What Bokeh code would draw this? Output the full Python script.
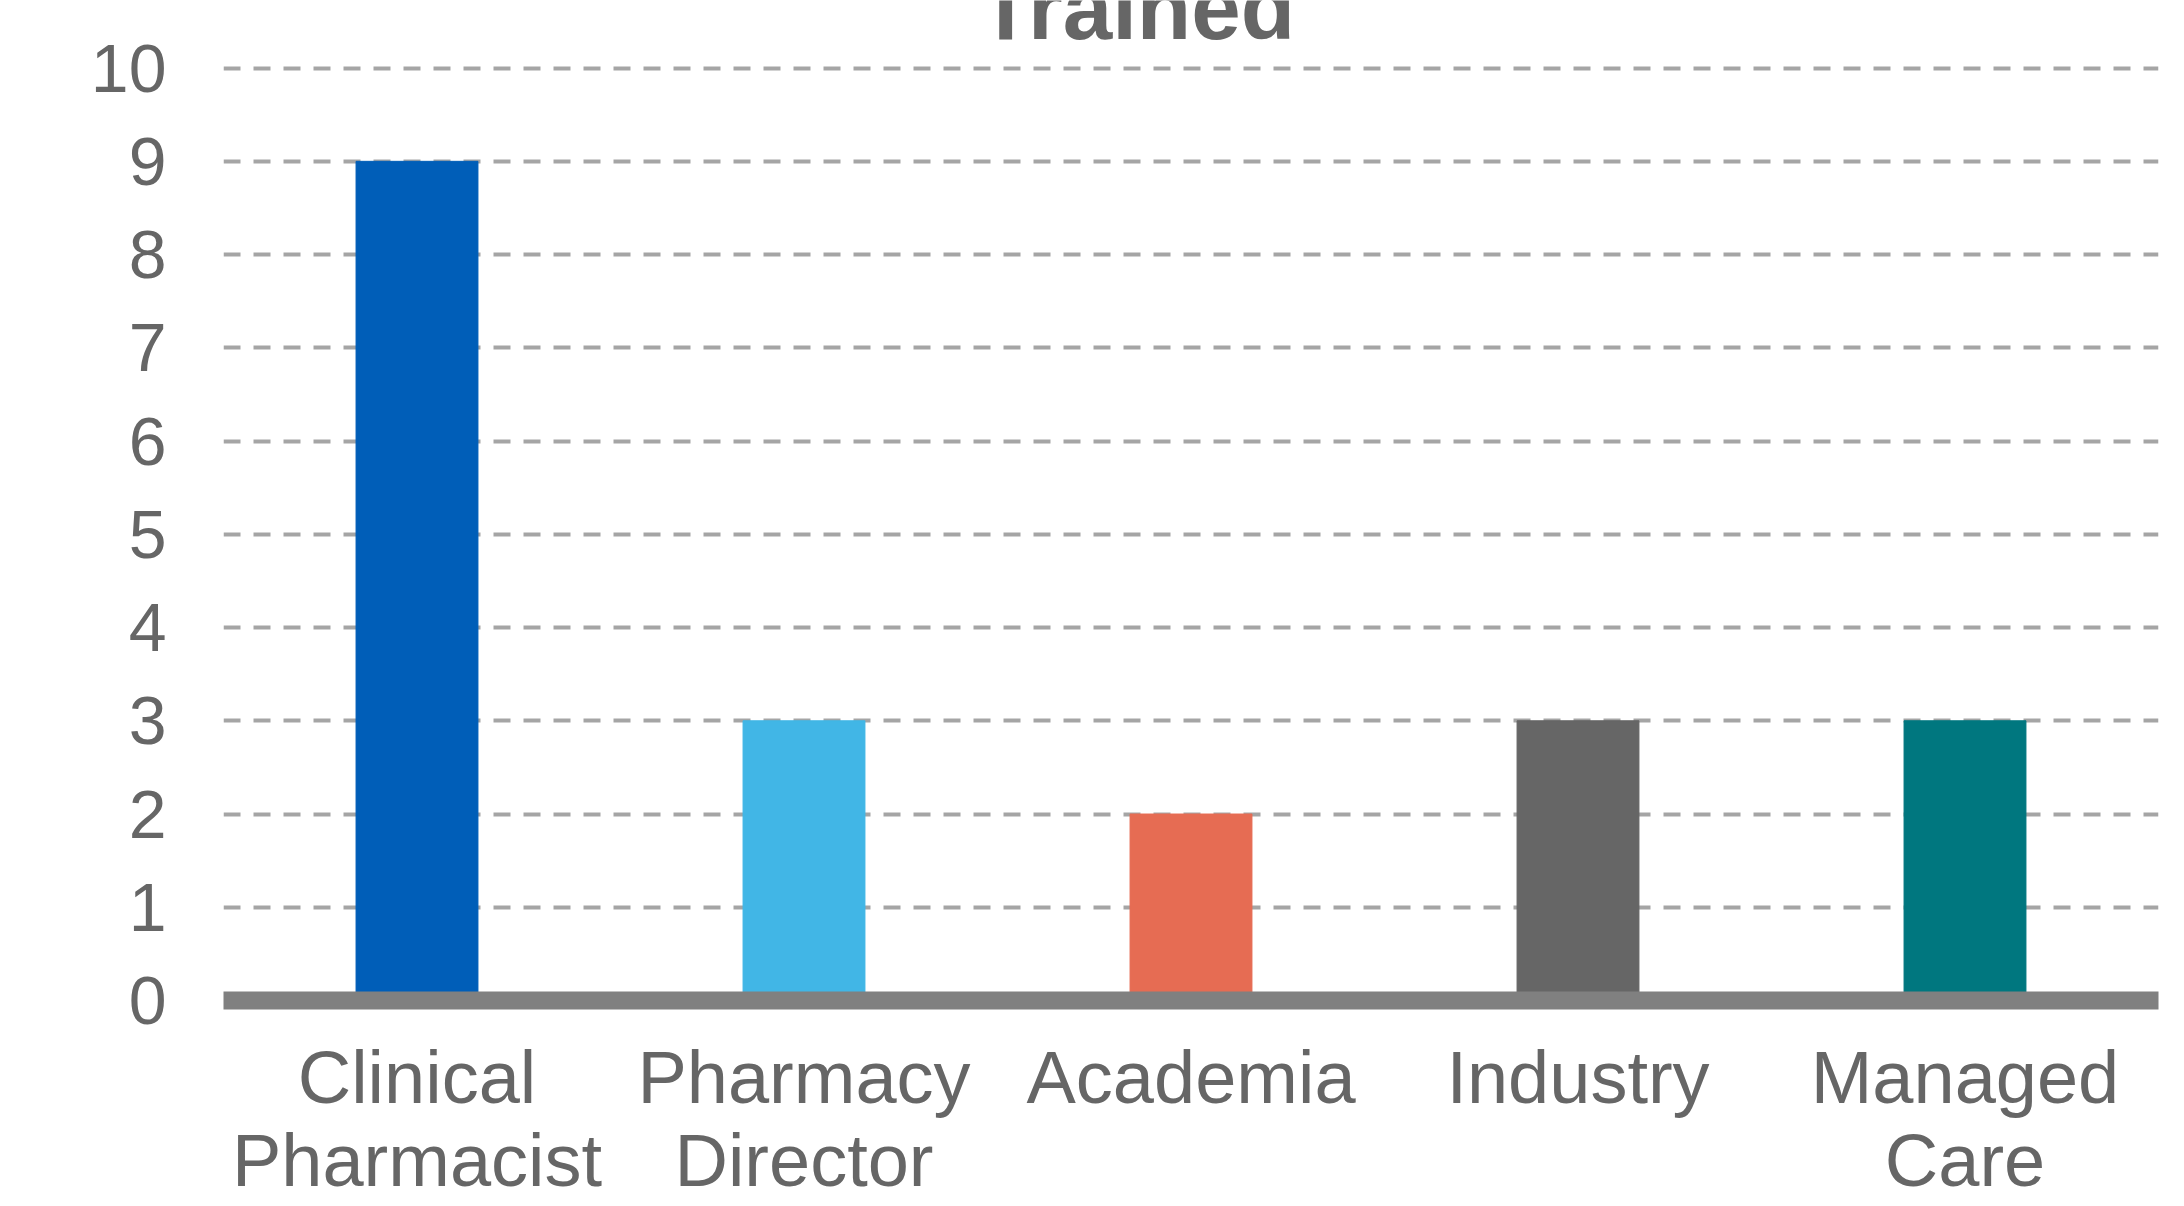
from bokeh.plotting import figure
from bokeh.models import ColumnDataSource, FixedTicker, Label, FactorRange
from bokeh.embed import file_html
from bokeh.resources import INLINE

categories = ["Clinical\nPharmacist", "Pharmacy\nDirector", "Academia", "Industry", "Managed\nCare"]
counts = [9, 3, 2, 3, 3]
bar_colors = ["#005EB8", "#41B6E6", "#E66C53", "#666666", "#00777F"]
y_ticks = [0, 1, 2, 3, 4, 5, 6, 7, 8, 9, 10]
title_text = "Trained"

FONT = "Liberation Sans"
TXT = "#666666"

src = ColumnDataSource(dict(cat=categories, val=counts, color=bar_colors))

p = figure(x_range=FactorRange(*categories), y_range=(0, 10.725),
           width=2176, height=1204, output_backend="svg", toolbar_location=None,
           min_border_left=223, min_border_right=18, min_border_top=0, min_border_bottom=203)

p.vbar(x="cat", top="val", width=0.315, color="color", source=src)

p.outline_line_color = None
p.background_fill_color = "white"
p.border_fill_color = "white"

p.xgrid.grid_line_color = None
p.ygrid.grid_line_color = "#A5A5A5"
p.ygrid.grid_line_width = 4
p.ygrid.grid_line_dash = "17 13"

p.yaxis.ticker = FixedTicker(ticks=y_ticks)
p.yaxis.axis_line_color = None
p.yaxis.major_tick_line_color = None
p.yaxis.minor_tick_line_color = None
p.yaxis.major_tick_out = 0
p.yaxis.major_tick_in = 0
p.yaxis.major_label_standoff = 57
p.yaxis.major_label_text_font = FONT
p.yaxis.major_label_text_font_size = "68px"
p.yaxis.major_label_text_color = TXT

p.xaxis.axis_line_color = "#808080"
p.xaxis.axis_line_width = 18
p.xaxis.major_tick_line_color = None
p.xaxis.major_tick_out = 0
p.xaxis.major_tick_in = 0
p.xaxis.major_label_standoff = 35
p.xaxis.major_label_text_font = FONT
p.xaxis.major_label_text_font_size = "74px"
p.xaxis.major_label_text_color = TXT
p.xaxis.major_label_text_line_height = 1.0

title = Label(x=2.36, y=10.64, text=title_text, text_align="center", text_baseline="alphabetic",
              text_font=FONT, text_font_style="bold", text_font_size="89px", text_color=TXT)
p.add_layout(title)

open("out.html", "w").write(file_html(p, INLINE))
